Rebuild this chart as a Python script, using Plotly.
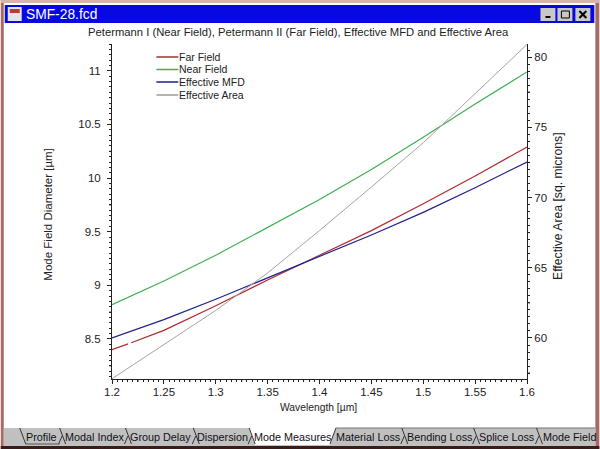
import plotly.graph_objects as go

W, H = 600, 449
L, R, T, B = 111.5, 527.5, 44, 379

wavelength = [1.2, 1.25, 1.3, 1.35, 1.4, 1.45, 1.5, 1.55, 1.6]
far_wavelength = [1.2, 1.2155, 1.217, 1.2185, 1.25, 1.3, 1.35, 1.4, 1.45, 1.5, 1.55, 1.6]
far_field = [8.40, 8.455, None, 8.465, 8.58, 8.81, 9.05, 9.28, 9.51, 9.76, 10.02, 10.29]
near_field = [8.82, 9.04, 9.28, 9.54, 9.80, 10.08, 10.38, 10.69, 10.99]
effective_mfd = [8.51, 8.68, 8.87, 9.07, 9.27, 9.47, 9.68, 9.91, 10.15]
effective_area = [57.1, 59.5, 61.96, 64.63, 67.65, 70.75, 73.9, 77.4, 80.9]

tab_names = ["Profile", "Modal Index", "Group Delay", "Dispersion", "Mode Measures",
             "Material Loss", "Bending Loss", "Splice Loss", "Mode Field"]
tab_centers = [40.5, 93.5, 160.5, 222.5, 293, 369, 440, 507, 570]
tab_separators = [59, 125, 193, 249, 402, 474, 537]

X_RANGE = [1.2, 1.6]
Y_RANGE = [8.127, 11.25]
Y2_RANGE = [57.08, 80.93]
FONT = "Liberation Sans"
TEXT = "#222222"


def px(x):
    return (x - L) / (R - L)


def py(y):
    return (B - y) / (B - T)


def rect(x0, y0, x1, y1, color):
    return dict(type="rect", xref="paper", yref="paper", x0=px(x0), x1=px(x1), y0=py(y0), y1=py(y1),
                fillcolor=color, line_width=0, layer="below")


def seg(x0, y0, x1, y1, color, width=1):
    return dict(type="line", xref="paper", yref="paper", x0=px(x0), x1=px(x1), y0=py(y0), y1=py(y1),
                line=dict(color=color, width=width), layer="above")


def label(x, y, s, size=11.5, color=TEXT, xanchor="left", angle=0, **kw):
    return dict(x=px(x), y=py(y), xref="paper", yref="paper", text=s, showarrow=False, xanchor=xanchor,
                yanchor="middle", textangle=angle, font=dict(family=FONT, size=size, color=color), **kw)


fig = go.Figure()
fig.add_trace(go.Scatter(x=wavelength, y=effective_area, yaxis="y2", mode="lines", name="Effective Area",
                         line=dict(color="#a8a2a2", width=1)))
fig.add_trace(go.Scatter(x=wavelength, y=near_field, mode="lines", name="Near Field",
                         line=dict(color="#3cb050", width=1.2)))
fig.add_trace(go.Scatter(x=far_wavelength, y=far_field, mode="lines", name="Far Field",
                         line=dict(color="#b02a30", width=1.2)))
fig.add_trace(go.Scatter(x=wavelength, y=effective_mfd, mode="lines", name="Effective MFD",
                         line=dict(color="#20208c", width=1.2)))

# window frame
shapes = [
    rect(0, 0, W, H, "#a86a64"),
    rect(0, 0, W, 3, "#d8b4ac"),
    rect(3, 3, 596, 446, "#ffffff"),
    rect(4, 5, 595, 23, "#0808e0"),
    rect(7, 7, 21, 21, "#e4e4ec"),
    rect(9, 9, 19, 13, "#c03838"),
    rect(0, 446, W, H, "#3a1c1a"),
    rect(3, 428, 596, 446, "#c0c0c0"),
    rect(541, 8, 556, 21, "#c8c8c8"),
    rect(558, 8, 573, 21, "#c8c8c8"),
    rect(576, 8, 591, 21, "#c8c8c8"),
    seg(546, 17, 551, 17, "#000000", 2),
    dict(type="rect", xref="paper", yref="paper", x0=px(562), x1=px(570), y0=py(11), y1=py(18),
         line=dict(color="#000000", width=1), layer="above"),
    seg(580, 11, 587, 18, "#000000", 2),
    seg(587, 11, 580, 18, "#000000", 2),
]

# tabs along the bottom
shapes.append(dict(type="path", xref="paper", yref="paper", layer="below", fillcolor="#ffffff", line_width=0,
                   path=f"M {px(249)} {py(428)} L {px(336)} {py(428)} L {px(330)} {py(445)} "
                        f"L {px(255)} {py(445)} Z"))
shapes.append(seg(19, 428, 25, 444, "#333333"))
shapes.append(seg(25, 444, 59, 444, "#555555"))
shapes.append(seg(336, 428, 330, 444, "#333333"))
shapes.append(seg(336, 428, 596, 428, "#777777"))
for sx in tab_separators:
    shapes.append(seg(sx, 428, sx + 6, 444, "#333333"))
    shapes.append(seg(sx + 2.5, 436, sx - 1, 444, "#333333"))

# mid ticks, a bit longer than the minor ones
xmid = [1.225, 1.275, 1.325, 1.375, 1.425, 1.475, 1.525, 1.575]
for v in xmid:
    xp = L + (v - X_RANGE[0]) / (X_RANGE[1] - X_RANGE[0]) * (R - L)
    shapes.append(seg(xp, B, xp, B + 3, TEXT))
for v in [8.25, 8.75, 9.25, 9.75, 10.25, 10.75]:
    yp = B - (v - Y_RANGE[0]) / (Y_RANGE[1] - Y_RANGE[0]) * (B - T)
    shapes.append(seg(L - 3, yp, L, yp, TEXT))
for v in [57.5, 62.5, 67.5, 72.5, 77.5]:
    yp = B - (v - Y2_RANGE[0]) / (Y2_RANGE[1] - Y2_RANGE[0]) * (B - T)
    shapes.append(seg(R, yp, R + 3, yp, TEXT))

# legend drawn by hand to sit inside the plot like the original
legend_rows = [("Far Field", "#b02a30", 57), ("Near Field", "#3cb050", 69.5),
               ("Effective MFD", "#20208c", 82), ("Effective Area", "#a09a9a", 95)]
annotations = []
for s, c, y in legend_rows:
    shapes.append(seg(156, y, 178, y, c, 1.5))
    annotations.append(label(177, y, s, 10.5))

annotations += [
    label(23, 14.5, "SMF-28.fcd", 13.8, "#ffffff"),
    label(298.5, 32, "Petermann I (Near Field), Petermann II (Far Field), Effective MFD and Effective Area", 11.25, xanchor="center"),
    label(318, 407, "Wavelength [µm]", 10.3, xanchor="center"),
    label(47, 214, "Mode Field Diameter [µm]", 11.5, xanchor="center", angle=-90),
    label(559, 206.5, "Effective Area [sq. microns]", 12.2, xanchor="center", angle=-90),
]
for name, c in zip(tab_names, tab_centers):
    annotations.append(label(c, 436.5, name, 10.8, "#111111", xanchor="center"))

axis_style = dict(showgrid=False, zeroline=False, showline=True, linecolor=TEXT, linewidth=1,
                  ticks="outside", ticklen=4, tickcolor=TEXT, tickfont=dict(family=FONT, size=11.5, color=TEXT))

fig.update_layout(
    width=W, height=H, showlegend=False, paper_bgcolor="#ffffff", plot_bgcolor="rgba(0,0,0,0)",
    margin=dict(l=L, r=W - R, t=T, b=H - B, autoexpand=False),
    shapes=shapes, annotations=annotations,
    xaxis=dict(range=X_RANGE, tickvals=[1.2, 1.25, 1.3, 1.35, 1.4, 1.45, 1.5, 1.55, 1.6],
               ticktext=["1.2", "1.25", "1.3", "1.35", "1.4", "1.45", "1.5", "1.55", "1.6"],
               ticklabelstandoff=-2,
               minor=dict(dtick=0.005, tick0=1.2, ticks="outside", ticklen=2, tickcolor=TEXT), **axis_style),
    yaxis=dict(range=Y_RANGE, tickvals=[8.5, 9, 9.5, 10, 10.5, 11],
               ticktext=["8.5", "9", "9.5", "10", "10.5", "11"], ticklabelstandoff=4,
               minor=dict(dtick=0.05, tick0=8, ticks="outside", ticklen=2, tickcolor=TEXT), **axis_style),
    yaxis2=dict(range=Y2_RANGE, overlaying="y", side="right", tickvals=[60, 65, 70, 75, 80],
                minor=dict(dtick=0.5, tick0=60, ticks="outside", ticklen=2, tickcolor=TEXT), **axis_style),
)

fig.write_html("out.html", config=dict(displayModeBar=False),
               post_script="document.body.style.margin='0';document.documentElement.style.overflow='hidden';")
